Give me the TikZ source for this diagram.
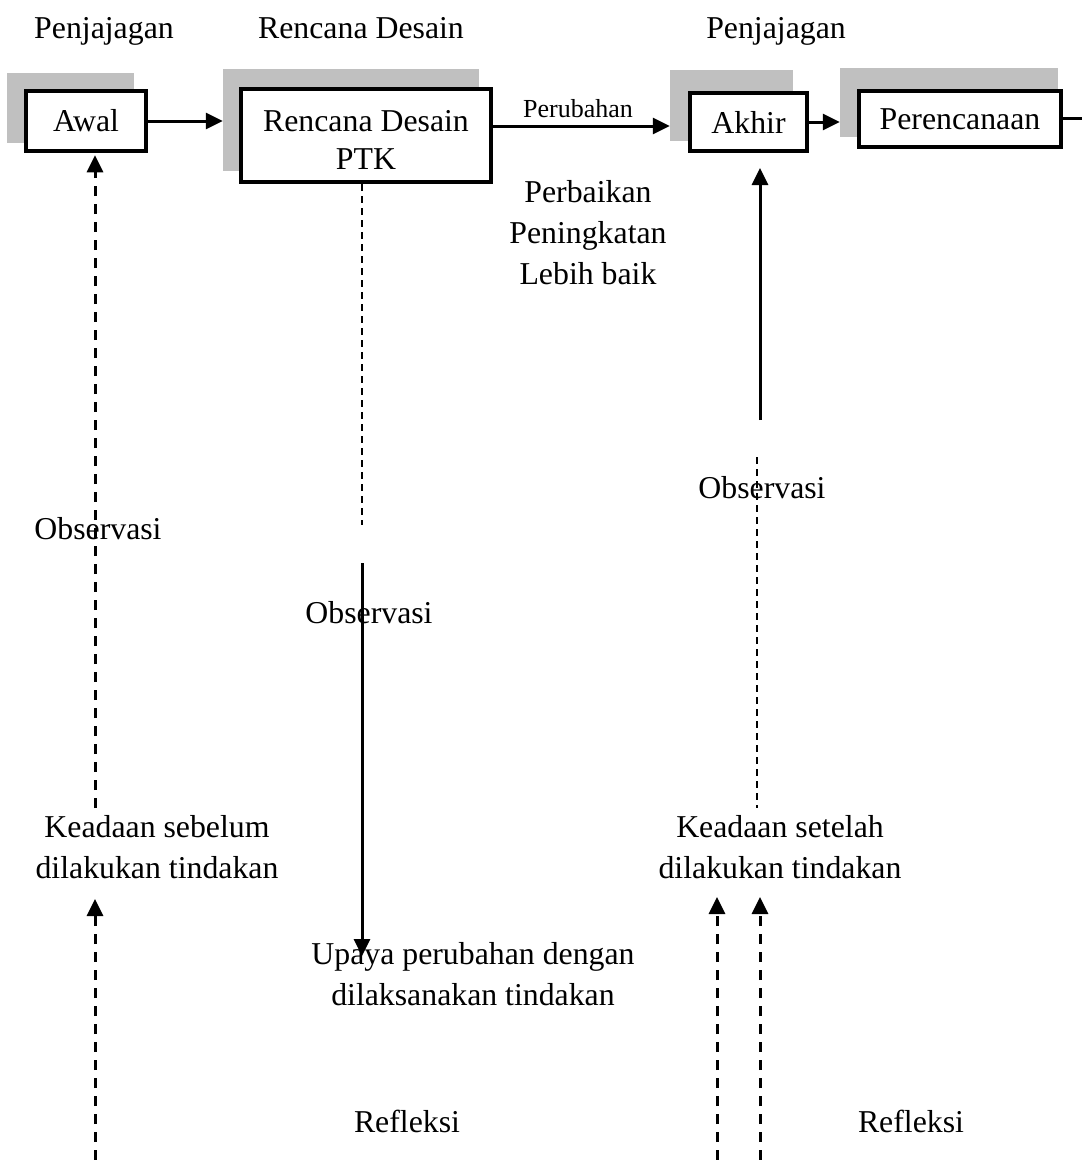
\documentclass[tikz,border=0pt]{standalone}
\usepackage{fontspec}
\setmainfont{Liberation Serif}
\usetikzlibrary{arrows.meta}
\definecolor{shadowgray}{RGB}{192,192,192}
\begin{document}
\begin{tikzpicture}[x=1pt,y=-1pt,
  txt/.style={inner sep=0pt, anchor=base, font=\fontsize{31.8}{41}\selectfont, align=center},
  smalltxt/.style={inner sep=0pt, anchor=base, font=\fontsize{26}{30}\selectfont},
  box/.style={draw, line width=4.5pt, fill=white, inner sep=0pt, font=\fontsize{31.8}{38}\selectfont, align=center},
  shadowbox/.style={fill=shadowgray, inner sep=0pt},
  arr/.style={line width=3pt, -{Triangle[length=17pt,width=16pt]}},
  dasharr/.style={arr, dash pattern=on 10pt off 8pt},
  thindash/.style={line width=2.3pt, dash pattern=on 7pt off 5pt},
  plainline/.style={line width=3pt}
]
\fill[white] (0,0) rectangle (1082,1160);
\useasboundingbox (0,0) rectangle (1082,1160);

% shadows
\node[shadowbox, minimum width=127pt, minimum height=70pt] (ash) at (70.5,108) {};
\node[shadowbox, minimum width=256pt, minimum height=102pt] (rsh) at (351,120) {};
\node[shadowbox, minimum width=123pt, minimum height=71pt] (aksh) at (731.5,105.5) {};
\node[shadowbox, minimum width=218pt, minimum height=69pt] (persh) at (949,102.5) {};

% boxes
\node[box, minimum width=120pt, minimum height=60pt] (awal) at (86,121) {Awal};
\node[box, minimum width=250pt, minimum height=93pt] (rencana) at (366,135.5) {\rule{0pt}{30pt}Rencana Desain\\PTK};
\node[box, minimum width=117pt, minimum height=58pt] (akhir) at (748.5,122) {Akhir};
\node[box, minimum width=202pt, minimum height=56pt] (peren) at (960,119) {Perencanaan};

% titles
\node[txt] (t1) at (104,38) {Penjajagan};
\node[txt] (t2) at (361,38) {Rencana Desain};
\node[txt] (t3) at (776,38) {Penjajagan};

% labels
\node[smalltxt] (perub) at (578,117) {Perubahan};
\node[txt] (perb) at (588,284) {Perbaikan\\Peningkatan\\Lebih baik};
\node[txt] (obs1) at (98,539) {Observasi};
\node[txt] (obs2) at (369,623) {Observasi};
\node[txt] (obs3) at (762,498) {Observasi};
\node[txt] (kse) at (157,878) {Keadaan sebelum\\dilakukan tindakan};
\node[txt] (kst) at (780,878) {Keadaan setelah\\dilakukan tindakan};
\node[txt] (upaya) at (473,1005) {Upaya perubahan dengan\\dilaksanakan tindakan};
\node[txt] (ref1) at (407,1132) {Refleksi};
\node[txt] (ref2) at (911,1132) {Refleksi};

% horizontal connectors
\draw[arr] (awal.east) -- (awal.east -| rsh.west);
\draw[arr] ([yshift=9.5pt]rencana.east) -- ([yshift=9.5pt]rencana.east -| aksh.west);
\draw[arr] (akhir.east) -- (akhir.east -| persh.west);
\coordinate (rightend) at (1082,118);
\draw[plainline] ([yshift=1pt]peren.east) -- (rightend);

% left column
\coordinate (l1) at (95,808);
\draw[dasharr, shorten >=2pt] (l1) -- (l1 |- awal.south);
\coordinate (l2) at (95,1160);
\coordinate (l2t) at (95,899);
\draw[dasharr] (l2) -- (l2t);

% middle column
\coordinate (m1) at (362,525);
\draw[thindash] (m1 |- rencana.south) -- (m1);
\coordinate (m2) at (362,563);
\coordinate (m3) at (362,956);
\draw[arr] (m2) -- (m3);

% right column
\coordinate (r1) at (760,420);
\coordinate (r1t) at (760,168);
\draw[arr] (r1) -- (r1t);
\coordinate (r2) at (757,457);
\coordinate (r3) at (757,808);
\draw[thindash] (r2) -- (r3);
\coordinate (b1) at (717,1160);
\coordinate (b1t) at (717,897);
\draw[dasharr] (b1) -- (b1t);
\coordinate (b2) at (760,1160);
\coordinate (b2t) at (760,897);
\draw[dasharr] (b2) -- (b2t);
\end{tikzpicture}
\end{document}
